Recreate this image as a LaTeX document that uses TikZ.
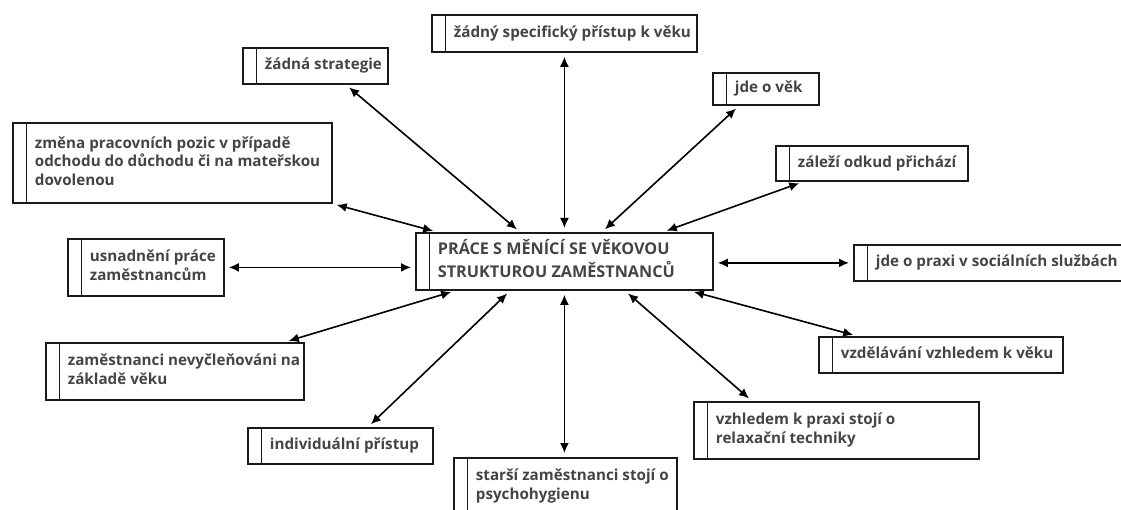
\documentclass[tikz,border=0pt]{standalone}
\usepackage{fontspec}
\usetikzlibrary{arrows.meta}
\newfontfamily\labfont{Open Sans}
\definecolor{inkc}{HTML}{444444}
\definecolor{framec}{HTML}{1A1A1A}
% a box of fixed width, its lines set flush left after the double left edge
\newcommand{\boxlines}[2]{\makebox[#1pt][l]{\hspace{22pt}\begin{tabular}{@{}l@{}}#2\end{tabular}}}
\begin{document}
\begin{tikzpicture}[x=1pt,y=-1pt,
  box/.style={draw=framec, line width=1.8pt, anchor=north west, inner xsep=0pt, inner ysep=0pt,
    minimum height=#1, text=inkc, font=\labfont\bfseries\fontsize{15.2}{18.5}\selectfont,
    path picture={\draw[framec,line width=1.8pt]
      ([xshift=13.5pt]path picture bounding box.north west) --
      ([xshift=13.5pt]path picture bounding box.south west);}},
  link/.style={{Latex[length=10pt,width=9pt]}-{Latex[length=10pt,width=9pt]},
    line width=1.6pt, shorten <=4pt, shorten >=4pt}
]
\useasboundingbox (0,0) rectangle (1121,510);
\clip (0,0) rectangle (1121,510);

% central topic
\node[box=57, font=\labfont\bfseries\fontsize{16.2}{23}\selectfont] (c) at (415,232)
  {\boxlines{297}{PRÁCE S MĚNÍCÍ SE VĚKOVOU\\STRUKTUROU ZAMĚSTNANCŮ}};

% surrounding statements
\node[box=37] (s1) at (431,14) {\boxlines{265}{žádný specifický přístup k věku}};
\node[box=36] (s2) at (242,47) {\boxlines{145}{žádná strategie}};
\node[box=32] (s3) at (712,72) {\boxlines{106}{jde o věk}};
\node[box=35] (s4) at (775,145) {\boxlines{192}{záleží odkud přichází}};
\node[box=80] (s5) at (12,122) {\boxlines{319}{změna pracovních pozic v případě\\odchodu do důchodu či na mateřskou\\dovolenou}};
\node[box=57] (s6) at (67,238) {\boxlines{156}{usnadnění práce\\zaměstnancům}};
\node[box=57] (s7) at (45,342) {\boxlines{258}{zaměstnanci nevyčleňováni na\\základě věku}};
\node[box=36] (s8) at (247,427) {\boxlines{185}{individuální přístup}};
\node[box=57] (s9) at (453,457) {\boxlines{223}{starší zaměstnanci stojí o\\psychohygienu}};
\node[box=57] (s10) at (693,401) {\boxlines{285}{vzhledem k praxi stojí o\\relaxační techniky}};
\node[box=36] (s11) at (818,336) {\boxlines{244}{vzdělávání vzhledem k věku}};
\node[box=36] (s12) at (853,244) {\boxlines{290}{jde o praxi v sociálních službách}};

% two-way links to the central topic
\draw[link] (s1.south) -- (c.north);
\draw[link] ([xshift=104]s2.south west) -- ([xshift=105]c.north west);
\draw[link] ([xshift=27]s3.south west) -- ([xshift=187]c.north west);
\draw[link] ([xshift=28]s4.south west) -- ([xshift=248]c.north west);
\draw[link] (s5.south east) -- ([xshift=22]c.north west);
\draw[link] (s6.east) -- (s6.east -| c.west);
\draw[link] ([xshift=240]s7.north west) -- ([xshift=40]c.south west);
\draw[link] ([xshift=121]s8.north west) -- ([xshift=95]c.south west);
\draw[link] (c.south) -- (c.south |- s9.north);
\draw[link] ([xshift=59]s10.north west) -- ([xshift=210]c.south west);
\draw[link] ([xshift=39]s11.north west) -- ([xshift=275]c.south west);
\draw[link] (s12.west -| c.east) -- (s12.west);
\end{tikzpicture}
\end{document}
